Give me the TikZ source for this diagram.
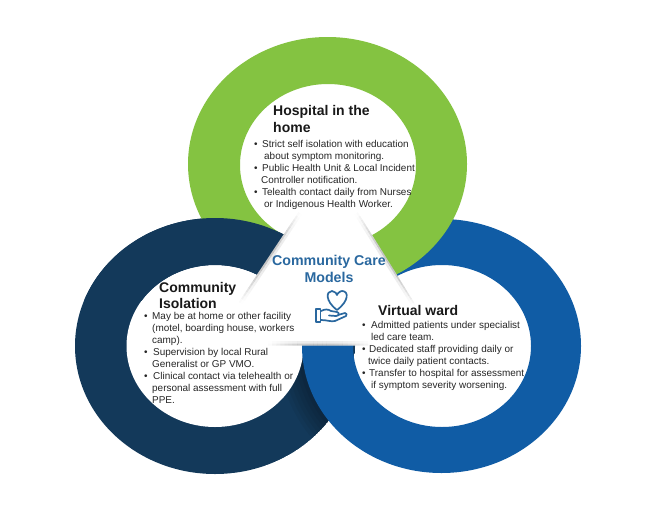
\documentclass[tikz,border=0pt]{standalone}
\usepackage{fontspec}
\setmainfont{Liberation Sans}
\usetikzlibrary{calc}
\definecolor{ringgreen}{HTML}{84C341}
\definecolor{ringnavy}{HTML}{13395A}
\definecolor{ringblue}{HTML}{105CA5}
\definecolor{titleblue}{HTML}{2A689F}
\tikzset{
  ring/.style={even odd rule},
  headline/.style={anchor=base west,inner sep=0pt,font=\bfseries\fontsize{14}{15}\selectfont,text=black!90},
  bodyline/.style={anchor=base west,inner sep=0pt,font=\fontsize{9.95}{11}\selectfont,text=black!85},
  centreline/.style={anchor=base,inner sep=0pt,font=\bfseries\fontsize{14.2}{15}\selectfont,text=titleblue},
  iconline/.style={draw=titleblue,line width=1.7pt,line join=round,line cap=round}
}
\newcommand{\navyring}{(215,346) ellipse [x radius=140,y radius=128] (215,346) ellipse [x radius=88.5,y radius=81]}
\newcommand{\edgeshadow}[2]{%
  \foreach \t in {0,0.04,...,0.96} {
    \pgfmathsetmacro{\fade}{0.16*sin(180*(\t+0.02))}
    \draw[black,line width=9pt,opacity=\fade*0.5] ($#1!\t!#2$) -- ($#1!\t+0.04!#2$);
    \draw[black,line width=4pt,opacity=\fade] ($#1!\t!#2$) -- ($#1!\t+0.04!#2$);
  }}
\begin{document}
\begin{tikzpicture}[x=1pt,y=-1pt]
  \useasboundingbox (0,0) rectangle (663,506);
  \fill[white] (0,0) rectangle (663,506);
  % rings, each one lies over the next
  \begin{scope}
    \clip (215,346) ellipse [x radius=140,y radius=128];
    \fill[ringnavy] (215,346) ellipse [x radius=140,y radius=128];
    \foreach \w in {8,16,...,48} {
      \draw[black,line width=\w pt,opacity=0.05] (441.5,346) ellipse [x radius=139.5,y radius=127];
    }
    \fill[white] (215,346) ellipse [x radius=88.5,y radius=81];
  \end{scope}
  \fill[ringblue,ring] (441.5,346) ellipse [x radius=139.5,y radius=127] (442,346) ellipse [x radius=89,y radius=81];
  \fill[ringgreen,ring] (327.5,164) ellipse [x radius=139.5,y radius=127] (328,165) ellipse [x radius=88,y radius=81];
  \begin{scope}
    \clip (0,0) rectangle (329,300);
    \fill[ringnavy,ring] \navyring;
  \end{scope}
  % middle triangle
  \coordinate (apex) at (329,166);
  \coordinate (cornerl) at (210,345.5);
  \coordinate (cornerr) at (441,345.5);
  \fill[white] (apex) -- (cornerl) -- (cornerr) -- cycle;
  \begin{scope}
    \clip (apex) -- (cornerl) -- (cornerr) -- cycle;
    \edgeshadow{(298.4,212)}{(238.6,302)}
    \edgeshadow{(358,212)}{(417,306)}
    \edgeshadow{(268,345.5)}{(372,345.5)}
  \end{scope}
  % heading texts
  \foreach \x/\y/\txt [count=\i] in {
      273/115/{Hospital in the},273/132/{home},
      159/292/{Community},159/308/{Isolation},
      378/315/{Virtual ward}} {
    \node[headline] (head\i) at (\x,\y) {\txt};
  }
  % list lines
  \foreach \x/\y/\txt [count=\i] in {
      254/147/{•},262/147/{Strict self isolation with education},264/159/{about symptom monitoring.},
      254/171/{•},262/171/{Public Health Unit \& Local Incident},261/183/{Controller notification.},
      254/195/{•},262/195/{Telealth contact daily from Nurses},264/207/{or Indigenous Health Worker.},
      144/319/{•},152/319/{May be at home or other facility},152/331/{(motel, boarding house, workers},152/343/{camp).},
      144/355/{•},153/355/{Supervision by local Rural},152/367/{Generalist or GP VMO.},
      144/379/{•},153/379/{Clinical contact via telehealth or},152/391/{personal assessment with full},152/403/{PPE.},
      362/328/{•},371/328/{Admitted patients under specialist},371/340/{led care team.},
      362/352/{•},369/352/{Dedicated staff providing daily or},368/364/{twice daily patient contacts.},
      362/376/{•},369/376/{Transfer to hospital for assessment},371/388/{if symptom severity worsening.}} {
    \node[bodyline] (line\i) at (\x,\y) {\txt};
  }
  \node[centreline] (title) at (329,265) {Community Care};
  \node[centreline] (subtitle) at (329,282) {Models};
  % heart over open hand
  \draw[iconline] (337,310) .. controls (325,301) and (326,291) .. (332,291)
    .. controls (335,291) and (337,294) .. (337,295)
    .. controls (337,294) and (340,291) .. (342,291)
    .. controls (349,291) and (349,301) .. (337,310) -- cycle;
  \draw[iconline] (316,309) rectangle (320.5,322);
  \draw[iconline] (321,311) .. controls (325,309) and (328,309) .. (331,311)
    -- (337,312) .. controls (340,313) and (339,316) .. (336,316) -- (329,315.5);
  \draw[iconline] (338,315) -- (345,313) .. controls (347,313) and (347,315) .. (346,316)
    -- (335,321) .. controls (331,322) and (327,320) .. (321,320);
\end{tikzpicture}
\end{document}
